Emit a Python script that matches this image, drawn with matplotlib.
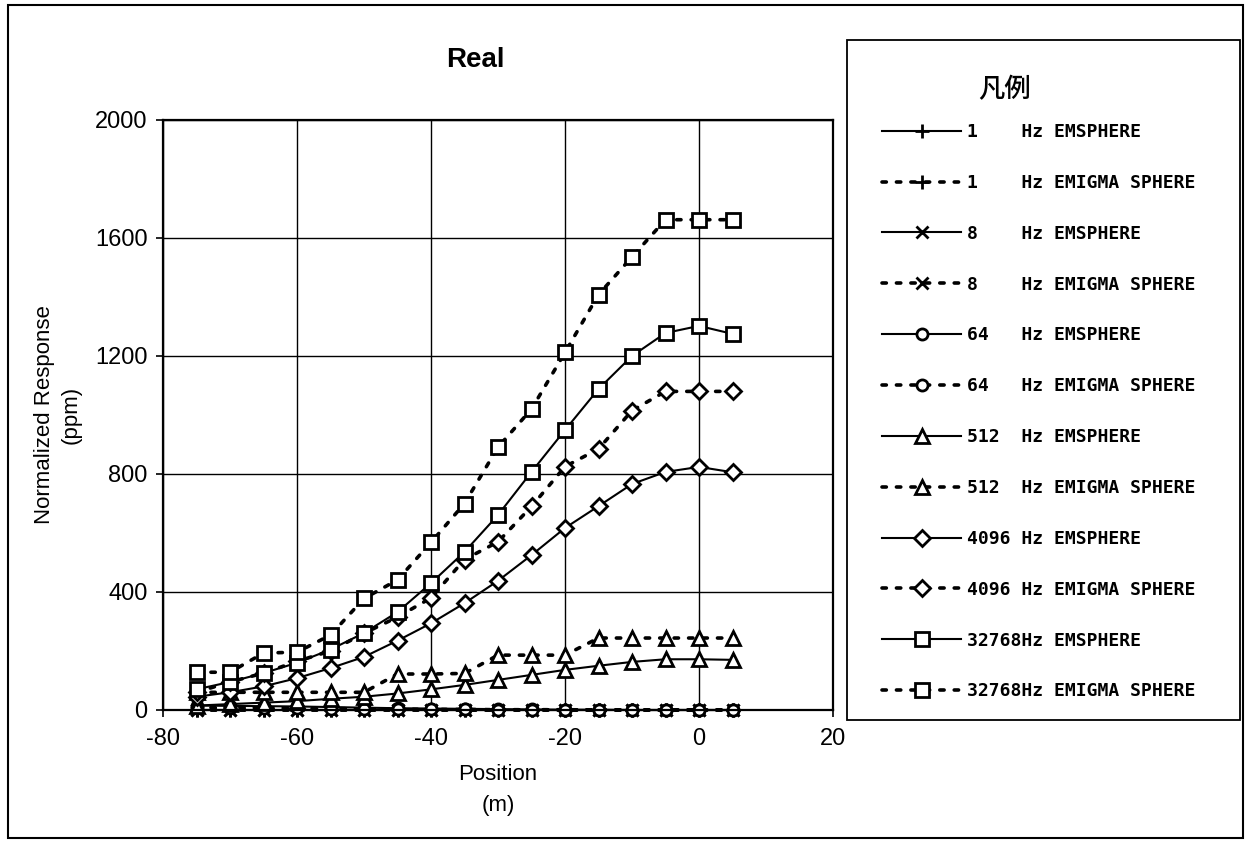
import matplotlib
matplotlib.use('Agg')
from matplotlib import pyplot as plt
from matplotlib.patches import Rectangle

plt.rcParams['font.family'] = ['Liberation Sans', 'Noto Sans CJK JP', 'DejaVu Sans']
plt.rcParams['axes.unicode_minus'] = False

# survey positions along the line (m)
position = [-75, -70, -65, -60, -55, -50, -45, -40, -35, -30, -25, -20, -15, -10, -5, 0, 5]

# real component of normalized response (ppm), per frequency and code
f1_em = [0, 0, 0, 0, 0, 0, 0, 0, 0, 0, 0, 0, 0, 0, 0, 0, 0]
f1_emigma = [0, 0, 0, 0, 0, 0, 0, 0, 0, 0, 0, 0, 0, 0, 0, 0, 0]
f8_em = [0, 0, 0, 0, 0, 0, 0, 0, 0, 0, 0, 0, 0, 0, 0, 0, 0]
f8_emigma = [0, 0, 0, 0, 0, 0, 0, 0, 0, 0, 0, 0, 0, 0, 0, 0, 0]
f64_em = [15, 14, 13, 12, 10, 8, 6, 5, 4, 3, 2, 1, 1, 0, 0, 0, 0]
f64_emigma = [8, 8, 7, 6, 5, 4, 3, 2, 2, 1, 1, 1, 0, 0, 0, 0, 0]
f512_em = [15, 20, 25, 30, 38, 45, 56, 70, 85, 102, 119, 136, 150, 163, 172, 172, 170]
f512_emigma = [60, 60, 60, 60, 60, 60, 122, 122, 124, 186, 186, 186, 244, 244, 244, 244, 244]
f4096_em = [45, 60, 80, 108, 142, 180, 235, 294, 362, 438, 525, 617, 691, 766, 807, 824, 806]
f4096_emigma = [60, 95, 125, 165, 200, 260, 315, 380, 510, 570, 690, 825, 885, 1015, 1080, 1080, 1080]
f32768_em = [70, 95, 125, 160, 205, 261, 332, 430, 536, 661, 807, 949, 1088, 1200, 1278, 1302, 1275]
f32768_emigma = [128, 128, 193, 196, 254, 378, 441, 568, 700, 891, 1020, 1212, 1408, 1536, 1662, 1662, 1662]

frequencies = ['1', '8', '64', '512', '4096', '32768']
markers = ['+', 'x', 'o', '^', 'D', 's']
marker_sizes = [10, 9, 8, 10, 8, 10]
series = [
    (f1_em, f1_emigma),
    (f8_em, f8_emigma),
    (f64_em, f64_emigma),
    (f512_em, f512_emigma),
    (f4096_em, f4096_emigma),
    (f32768_em, f32768_emigma),
]

fig = plt.figure(figsize=(12.48, 8.43), dpi=100)
ax = fig.add_axes([163 / 1248, 1 - 710 / 843, 670 / 1248, 590 / 843])

handles = []
labels = []
for freq, mk, ms, (em, emigma) in zip(frequencies, markers, marker_sizes, series):
    h1, = ax.plot(position, em, color='black', linewidth=1.5, marker=mk, markersize=ms,
                  markerfacecolor='white', markeredgecolor='black', markeredgewidth=2.0,
                  clip_on=False)
    h2, = ax.plot(position, emigma, color='black', linewidth=2.6, linestyle=(0, (1.2, 2.8)),
                  dash_capstyle='round', marker=mk, markersize=ms,
                  markerfacecolor='white', markeredgecolor='black', markeredgewidth=2.0,
                  clip_on=False)
    handles += [h1, h2]
    labels += [f'{freq:<5}Hz EMSPHERE', f'{freq:<5}Hz EMIGMA SPHERE']

ax.set_xlim(-80, 20)
ax.set_ylim(0, 2000)
ax.set_xticks([-80, -60, -40, -20, 0, 20])
ax.set_yticks([0, 400, 800, 1200, 1600, 2000])
ax.grid(True, color='black', linewidth=1.0)
ax.set_axisbelow(True)
for sp in ax.spines.values():
    sp.set_linewidth(1.6)
ax.tick_params(axis='both', labelsize=17, length=5, width=1.2, direction='out')
ax.tick_params(axis='y', pad=6)
ax.tick_params(axis='x', pad=8)

ax.set_xlabel('Position\n(m)', fontsize=16, linespacing=1.6, labelpad=10)
ax.set_ylabel('Normalized Response\n(ppm)', fontsize=16, linespacing=1.3, labelpad=10)

fig.text(475 / 1248, 1 - 60 / 843, 'Real', fontsize=20, fontweight='bold',
         ha='center', va='center')

# legend box on the right
fig.patches.append(Rectangle((847 / 1248, 1 - 720 / 843), 393 / 1248, 680 / 843,
                             transform=fig.transFigure, fill=False,
                             edgecolor='black', linewidth=1.3))
fig.text(1005 / 1248, 1 - 90 / 843, '凡例', fontsize=19, family='Noto Sans CJK JP',
         fontweight='medium', ha='center', va='center')
leg = fig.legend(handles, labels, loc='upper left',
                 bbox_to_anchor=(882 / 1248, 1 - 123 / 843),
                 frameon=False, borderpad=0, borderaxespad=0,
                 handlelength=4.4, handletextpad=0.3, labelspacing=1.82,
                 prop={'family': 'DejaVu Sans Mono', 'size': 13, 'weight': 'bold'})

# outer border around the whole chart
fig.patches.append(Rectangle((8 / 1248, 5 / 843), 1235 / 1248, 833 / 843,
                             transform=fig.transFigure, fill=False,
                             edgecolor='black', linewidth=1.5))

fig.savefig('out.png', dpi=100, facecolor='white')
